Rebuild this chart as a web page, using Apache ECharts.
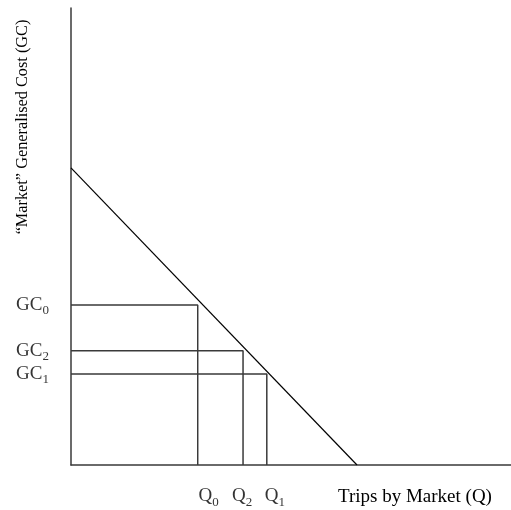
<!DOCTYPE html>
<html>
<head>
<meta charset="utf-8">
<script src="https://cdn.jsdelivr.net/npm/echarts@6/dist/echarts.min.js"></script>
<style>html,body{margin:0;padding:0;background:#fff}#c{width:511px;height:510px}</style>
</head>
<body>
<div id="c"></div>
<script>
// Data (schematic units)
var demandLine = [[0, 65], [65, 0]];
var qNames = ['0', '2', '1'];
var qValues = [28.8, 39.1, 44.5];
var gcNames = ['0', '2', '1'];
var gcValues = [35.0, 25.0, 19.9];
var xTitle = 'Trips by Market (Q)';
var yTitle = '\u201cMarket\u201d Generalised Cost (GC)';

// Layout / style (not data)
var FONT = '"Liberation Serif", "Times New Roman", serif';
var qLabelDx = [11, -1, 8];
var LINE = '#3a3a3a';

var rich = {
  a: {fontSize: 19, fontFamily: FONT, color: '#000', lineHeight: 19, padding: [0, 0, 3, 0], verticalAlign: 'bottom'},
  b: {fontSize: 13, fontFamily: FONT, color: '#000', lineHeight: 13, verticalAlign: 'bottom'}
};

var series = [];
series.push({
  type: 'line', data: demandLine, symbol: 'none', silent: true,
  lineStyle: {color: '#000', width: 1.2}
});
for (var i = 0; i < qValues.length; i++) {
  series.push({
    type: 'line', symbol: 'none', silent: true,
    data: [[0, gcValues[i]], [qValues[i], gcValues[i]], [qValues[i], 0]],
    lineStyle: {color: LINE, width: 1.5}
  });
}
// GC labels
series.push({
  type: 'scatter', symbolSize: 0, silent: true,
  data: gcValues.map(function (v, i) {
    return {value: [0, v], label: {formatter: '{a|GC}{b|' + gcNames[i] + '}'}};
  }),
  label: {show: true, position: 'left', distance: 22, offset: [0, 3], rich: rich}
});
// Q labels
series.push({
  type: 'scatter', symbolSize: 0, silent: true,
  data: qValues.map(function (v, i) {
    return {value: [v, 0], label: {formatter: '{a|Q}{b|' + qNames[i] + '}', offset: [qLabelDx[i], 0]}};
  }),
  label: {show: true, position: 'bottom', distance: 25, rich: rich}
});

var chart = echarts.init(document.getElementById('c'));
chart.setOption({
  animation: false,
  backgroundColor: '#fff',
  grid: {left: 71, right: 0, top: 8, bottom: 45},
  xAxis: {
    type: 'value', min: 0, max: 100,
    axisLine: {show: true, onZero: false, lineStyle: {color: LINE, width: 1.5}},
    axisTick: {show: false}, axisLabel: {show: false}, splitLine: {show: false}
  },
  yAxis: {
    type: 'value', min: 0, max: 100,
    axisLine: {show: true, onZero: false, lineStyle: {color: LINE, width: 1.5}},
    axisTick: {show: false}, axisLabel: {show: false}, splitLine: {show: false}
  },
  graphic: [
    {
      type: 'text', x: 338, y: 497,
      style: {text: xTitle, font: '19px ' + FONT, fill: '#000', textAlign: 'left', textVerticalAlign: 'middle'}
    },
    {
      type: 'text', x: 23, y: 127, rotation: Math.PI / 2,
      style: {text: yTitle, font: '16.3px ' + FONT, fill: '#000', textAlign: 'center', textVerticalAlign: 'middle'}
    }
  ],
  series: series
});
</script>
</body>
</html>
